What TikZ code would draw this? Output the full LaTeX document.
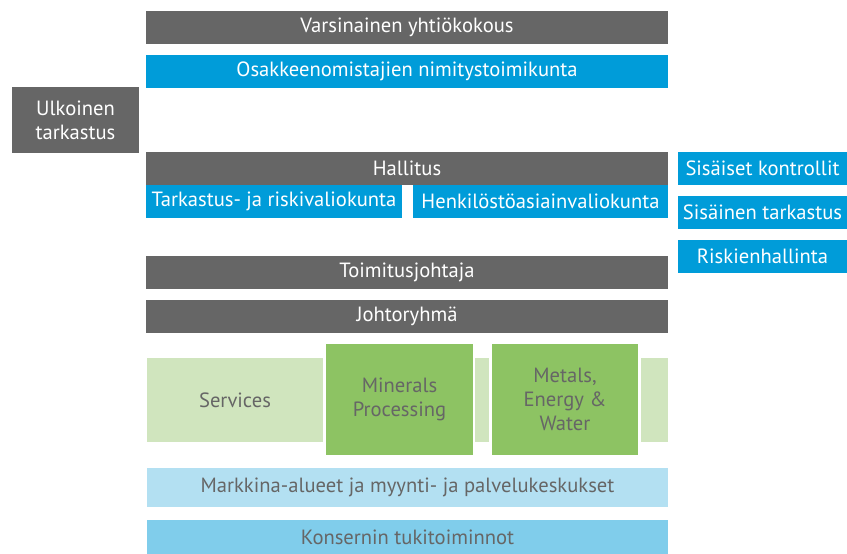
\documentclass[tikz,border=0pt]{standalone}
\usepackage{fontspec}
\setmainfont{PT Sans}
\definecolor{harmaa}{HTML}{666666}
\definecolor{sininen}{HTML}{009CD9}
\definecolor{vihrea}{HTML}{8DC363}
\definecolor{vaalvihrea}{HTML}{D0E5BE}
\definecolor{vaalsininen}{HTML}{B3E0F2}
\definecolor{keskisininen}{HTML}{80CDEB}
\tikzset{
    box/.style={inner sep=0pt, align=center, font=\fontsize{20.6}{24}\selectfont},
    graybox/.style={box, fill=harmaa, text=white},
    bluebox/.style={box, fill=sininen, text=white},
    greenbox/.style={box, fill=vihrea, text=harmaa},
    palebox/.style={box, fill=vaalvihrea, text=harmaa}
}
\begin{document}
\begin{tikzpicture}[x=1pt,y=-1pt]
            \useasboundingbox (0,0) rectangle (847,554);
            \node[graybox, minimum width=522, minimum height=33] (yk) at (407,27.5) {Varsinainen yhtiökokous};
            \node[bluebox, minimum width=522, minimum height=33] (nt) at (407,71.5) {Osakkeenomistajien nimitystoimikunta};
            \node[graybox, minimum width=127, minimum height=66] (ut) at (75.5,120) {Ulkoinen\\tarkastus};

            \node[graybox, minimum width=522, minimum height=33] (hal) at (407,168.5) {Hallitus};
            \node[bluebox, minimum width=256, minimum height=33] (trv) at (274,201.5) {Tarkastus- ja riskivaliokunta};
            \node[bluebox, minimum width=255, minimum height=33] (hav) at (540.5,201.5) {Henkilöstöasiainvaliokunta};

            \node[bluebox, minimum width=169, minimum height=33] (sk) at (762.5,168.5) {Sisäiset kontrollit};
            \node[bluebox, minimum width=169, minimum height=33] (st) at (762.5,212.5) {Sisäinen tarkastus};
            \node[bluebox, minimum width=169, minimum height=33] (rh) at (762.5,256.5) {Riskienhallinta};

            \node[graybox, minimum width=522, minimum height=33] (tj) at (407,272.5) {Toimitusjohtaja};
            \node[graybox, minimum width=522, minimum height=33] (jr) at (407,316.5) {Johtoryhmä};

            \node[palebox, minimum width=176, minimum height=84] (serv) at (235,400) {Services};
            \node[greenbox, minimum width=147, minimum height=111] (mp) at (399.5,399.5) {Minerals\\Processing};
            \node[palebox, minimum width=14, minimum height=84] (v1) at (482,400) {};
            \node[greenbox, minimum width=146, minimum height=111] (mew) at (565,399.5) {Metals,\\Energy \&\\Water};
            \node[palebox, minimum width=27, minimum height=84] (v2) at (654.5,400) {};

            \node[box, fill=vaalsininen, text=harmaa, minimum width=521, minimum height=39] (ma) at (407.5,487.5) {Markkina-alueet ja myynti- ja palvelukeskukset};
            \node[box, fill=keskisininen, text=harmaa, minimum width=521, minimum height=34] (kt) at (407.5,537) {Konsernin tukitoiminnot};
        \end{tikzpicture}
\end{document}
